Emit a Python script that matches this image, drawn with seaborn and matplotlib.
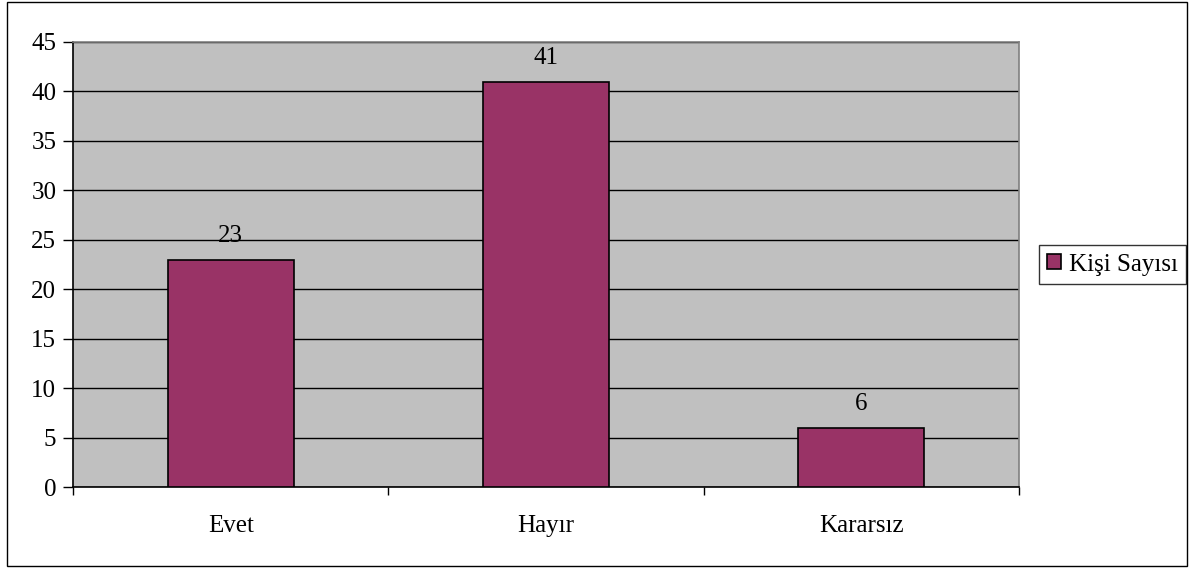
import pandas as pd
import matplotlib.pyplot as plt
import seaborn as sns
from matplotlib.patches import Rectangle

# data
cevaplar = ['Evet', 'Hayır', 'Kararsız']
kisi_sayisi = [23, 41, 6]
seri_adi = 'Kişi Sayısı'

df = pd.DataFrame({'Cevap': cevaplar, 'Sayi': kisi_sayisi})

sns.set_style('white')
plt.rcParams['font.family'] = ['Liberation Serif', 'DejaVu Serif']
plt.rcParams['text.color'] = 'black'
plt.rcParams['xtick.color'] = 'black'
plt.rcParams['ytick.color'] = 'black'

fs = 18

fig = plt.figure(figsize=(11.91, 5.68), dpi=100, facecolor='white')
ax = fig.add_axes([0.0613, 0.1426, 0.7943, 0.7835])
ax.set_facecolor('#C0C0C0')

sns.barplot(data=df, x='Cevap', y='Sayi', color='#993366', saturation=1,
            width=0.4, edgecolor='black', linewidth=1.2, label=seri_adi,
            ax=ax, zorder=3)

# value labels
for cont in ax.containers:
    ax.bar_label(cont, labels=[str(v) for v in kisi_sayisi], padding=9, fontsize=fs, color='black')

ax.set_ylim(0, 45)
ax.set_xlim(-0.5, 2.5)
ax.set_yticks(range(0, 46, 5))
ax.tick_params(axis='y', labelsize=fs, length=7, width=1, direction='out', left=True, pad=5)
ax.yaxis.grid(True, color='black', linewidth=1, zorder=0)
ax.set_axisbelow(True)

# category boundaries as major ticks, labels on minor ticks
ax.set_xticks([-0.5, 0.5, 1.5, 2.5])
ax.set_xticklabels([])
ax.set_xticks([0, 1, 2], minor=True)
ax.set_xticklabels(cevaplar, minor=True, fontsize=fs)
ax.tick_params(axis='x', which='major', length=6, width=1, direction='out', bottom=True)
ax.tick_params(axis='x', which='minor', length=0, pad=20)

ax.set_xlabel('')
ax.set_ylabel('')

for s in ['left', 'bottom']:
    ax.spines[s].set_color('black')
    ax.spines[s].set_linewidth(1.2)
for s in ['top', 'right']:
    ax.spines[s].set_color('#808080')
    ax.spines[s].set_linewidth(1.2)

leg = ax.legend(loc='center', bbox_to_anchor=(0.934, 0.534), bbox_transform=fig.transFigure,
                fontsize=fs, frameon=True, fancybox=False, handlelength=0.55, handleheight=0.55,
                handletextpad=0.3, borderpad=0.35)
leg.get_frame().set_edgecolor('black')
leg.get_frame().set_linewidth(1)

# outer chart border
fig.patches.append(Rectangle((0.006, 0.004), 0.991, 0.992, transform=fig.transFigure,
                             fill=False, edgecolor='black', linewidth=1))

plt.savefig('out.png', dpi=100)
